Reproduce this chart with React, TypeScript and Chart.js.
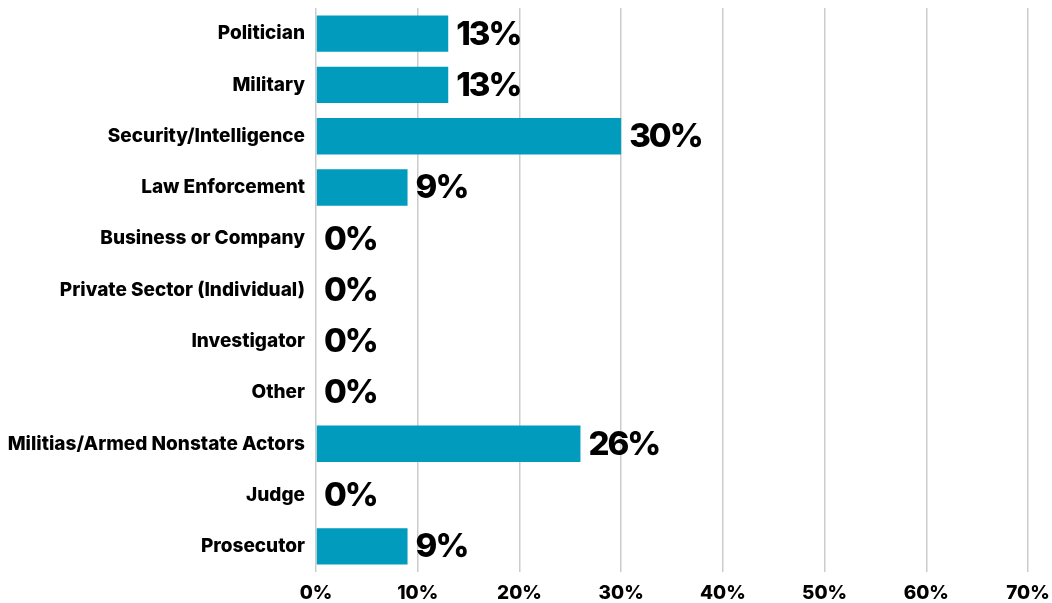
import React, { useEffect, useRef } from "react";
import { Chart, registerables } from "chart.js";

Chart.register(...registerables);

const categories = [
  "Politician",
  "Military",
  "Security/Intelligence",
  "Law Enforcement",
  "Business or Company",
  "Private Sector (Individual)",
  "Investigator",
  "Other",
  "Militias/Armed Nonstate Actors",
  "Judge",
  "Prosecutor",
];
const values = [13, 13, 30, 9, 0, 0, 0, 0, 26, 0, 9];
const xTicks = [0, 10, 20, 30, 40, 50, 60, 70];

const FONT = "Inter, 'Liberation Sans', Arial, sans-serif";

const valueLabels = {
  id: "valueLabels",
  afterDatasetsDraw(chart: any) {
    const ctx = chart.ctx;
    const meta = chart.getDatasetMeta(0);
    ctx.save();
    ctx.font = `800 33px ${FONT}`;
    try {
      (ctx as any).letterSpacing = "-2px";
    } catch (e) {}
    ctx.fillStyle = "#000";
    ctx.textAlign = "left";
    ctx.textBaseline = "middle";
    meta.data.forEach((bar: any, i: number) => {
      const v = values[i];
      ctx.fillText(`${v}%`, bar.x + 8, bar.y + 1);
    });
    ctx.restore();
  },
};

export default function App() {
  const ref = useRef<HTMLCanvasElement>(null);
  useEffect(() => {
    if (!ref.current) return;
    const chart = new Chart(ref.current, {
      type: "bar",
      data: {
        labels: categories,
        datasets: [
          {
            data: values,
            backgroundColor: "#009bbd",
            borderWidth: 0,
            categoryPercentage: 1,
            barPercentage: 0.71,
          },
        ],
      },
      options: {
        indexAxis: "y",
        animation: false,
        responsive: false,
        maintainAspectRatio: false,
        layout: { padding: { top: 8, right: 24, left: 0, bottom: 0 } },
        plugins: {
          legend: { display: false },
          tooltip: { enabled: false },
        },
        scales: {
          x: {
            min: 0,
            max: 70,
            afterBuildTicks: (axis: any) => {
              axis.ticks = xTicks.map((v) => ({ value: v }));
            },
            afterFit: (axis: any) => {
              axis.height = 31;
              axis.paddingLeft = 0;
              axis.paddingRight = 0;
            },
            grid: {
              color: "#cccccc",
              lineWidth: 1.5,
              drawTicks: false,
            },
            border: { display: false },
            ticks: {
              padding: 10,
              color: "#000",
              font: { family: FONT, size: 19, weight: "800" as any },
              callback: (v: any) => `${v}%`,
            },
          },
          y: {
            afterFit: (axis: any) => {
              axis.width = 316;
              axis.paddingTop = 0;
              axis.paddingBottom = 0;
            },
            grid: { display: false, drawTicks: false },
            border: { display: false },
            ticks: {
              padding: 11,
              color: "#000",
              font: { family: FONT, size: 19, weight: "800" as any },
            },
          },
        },
      },
      plugins: [valueLabels],
    });
    return () => chart.destroy();
  }, []);
  return (
    <div style={{ position: "absolute", left: 0, top: 0, width: 1052, height: 603, background: "#fff" }}>
      <canvas ref={ref} width={1052} height={603} style={{ width: 1052, height: 603 }} />
    </div>
  );
}
